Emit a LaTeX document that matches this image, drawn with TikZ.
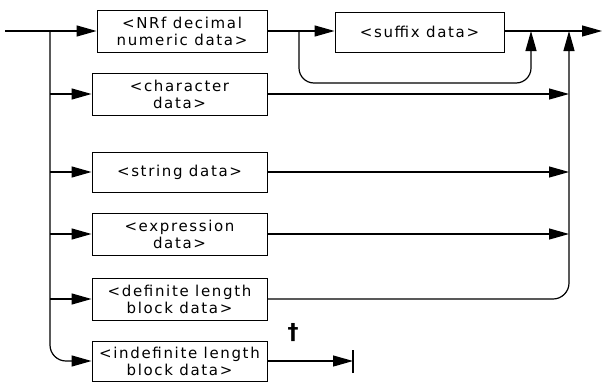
\documentclass[tikz,border=0pt]{standalone}
\usepackage{fontspec}
\setmainfont{DejaVu Sans}[LetterSpace=11]
\newfontfamily\dagfont{DejaVu Sans}
\usetikzlibrary{arrows.meta}
\begin{document}
\begin{tikzpicture}[x=1pt,y=-1pt,
  box/.style={draw, line width=0.9pt, minimum width=175pt, minimum height=42pt,
    align=center, inner sep=0pt, font=\fontsize{15}{17}\selectfont},
  flow/.style={line width=1.2pt},
  arr/.style={-{Triangle[length=20pt,width=11pt]}}]
\useasboundingbox (0,0) rectangle (605,383);
% boxes
\node[box, minimum width=170pt] (nrf) at (182,31) {<NRf decimal\\numeric data>};
\node[box, minimum width=169pt, minimum height=40pt] (suf) at (419.5,32) {<suffix data>};
\node[box] (chr) at (179.5,94) {<character\\data>};
\node[box, minimum height=40pt] (str) at (179.5,172) {<string data>};
\node[box] (expr) at (179.5,234) {<expression\\data>};
\node[box] (def) at (179.5,299) {<definite length\\block data>};
\node[box, minimum height=40pt] (indef) at (179.5,361) {<indefinite length\\block data>};
\node (dag) at (293,333) {\dagfont\bfseries\fontsize{22}{22}\selectfont †};
% coordinates
\coordinate (start) at (5,31);
\coordinate (j0) at (50,31);
\coordinate (l1) at (299,31);
\coordinate (l2) at (531,31);
\coordinate (lb) at (415,83);
\coordinate (r0) at (569,31);
\coordinate (end) at (602,31);
\coordinate (stop) at (353,361);
% left side
\draw[flow] (start) -- (j0);
\draw[flow,arr] (j0) -- (nrf.west);
\draw[flow,arr,rounded corners=16pt] (j0) |- (indef.west);
\draw[flow,arr] (j0 |- chr.west) -- (chr.west);
\draw[flow,arr] (j0 |- str.west) -- (str.west);
\draw[flow,arr] (j0 |- expr.west) -- (expr.west);
\draw[flow,arr] (j0 |- def.west) -- (def.west);
% top row
\draw[flow,arr] (nrf.east) -- (nrf.east -| suf.west);
\draw[flow,arr,rounded corners=15pt] (l1) |- (lb) -| (l2);
\draw[flow,arr] (suf.east |- end) -- (end);
% right side
\draw[flow,arr] (chr.east) -- (chr.east -| r0);
\draw[flow,arr] (str.east) -- (str.east -| r0);
\draw[flow,arr] (expr.east) -- (expr.east -| r0);
\draw[flow,arr,rounded corners=16pt] (def.east) -| (r0);
% indefinite
\draw[flow,arr] (indef.east) -- (stop);
\draw[flow] ([yshift=-12pt]stop) -- ([yshift=11pt]stop);
\end{tikzpicture}
\end{document}
